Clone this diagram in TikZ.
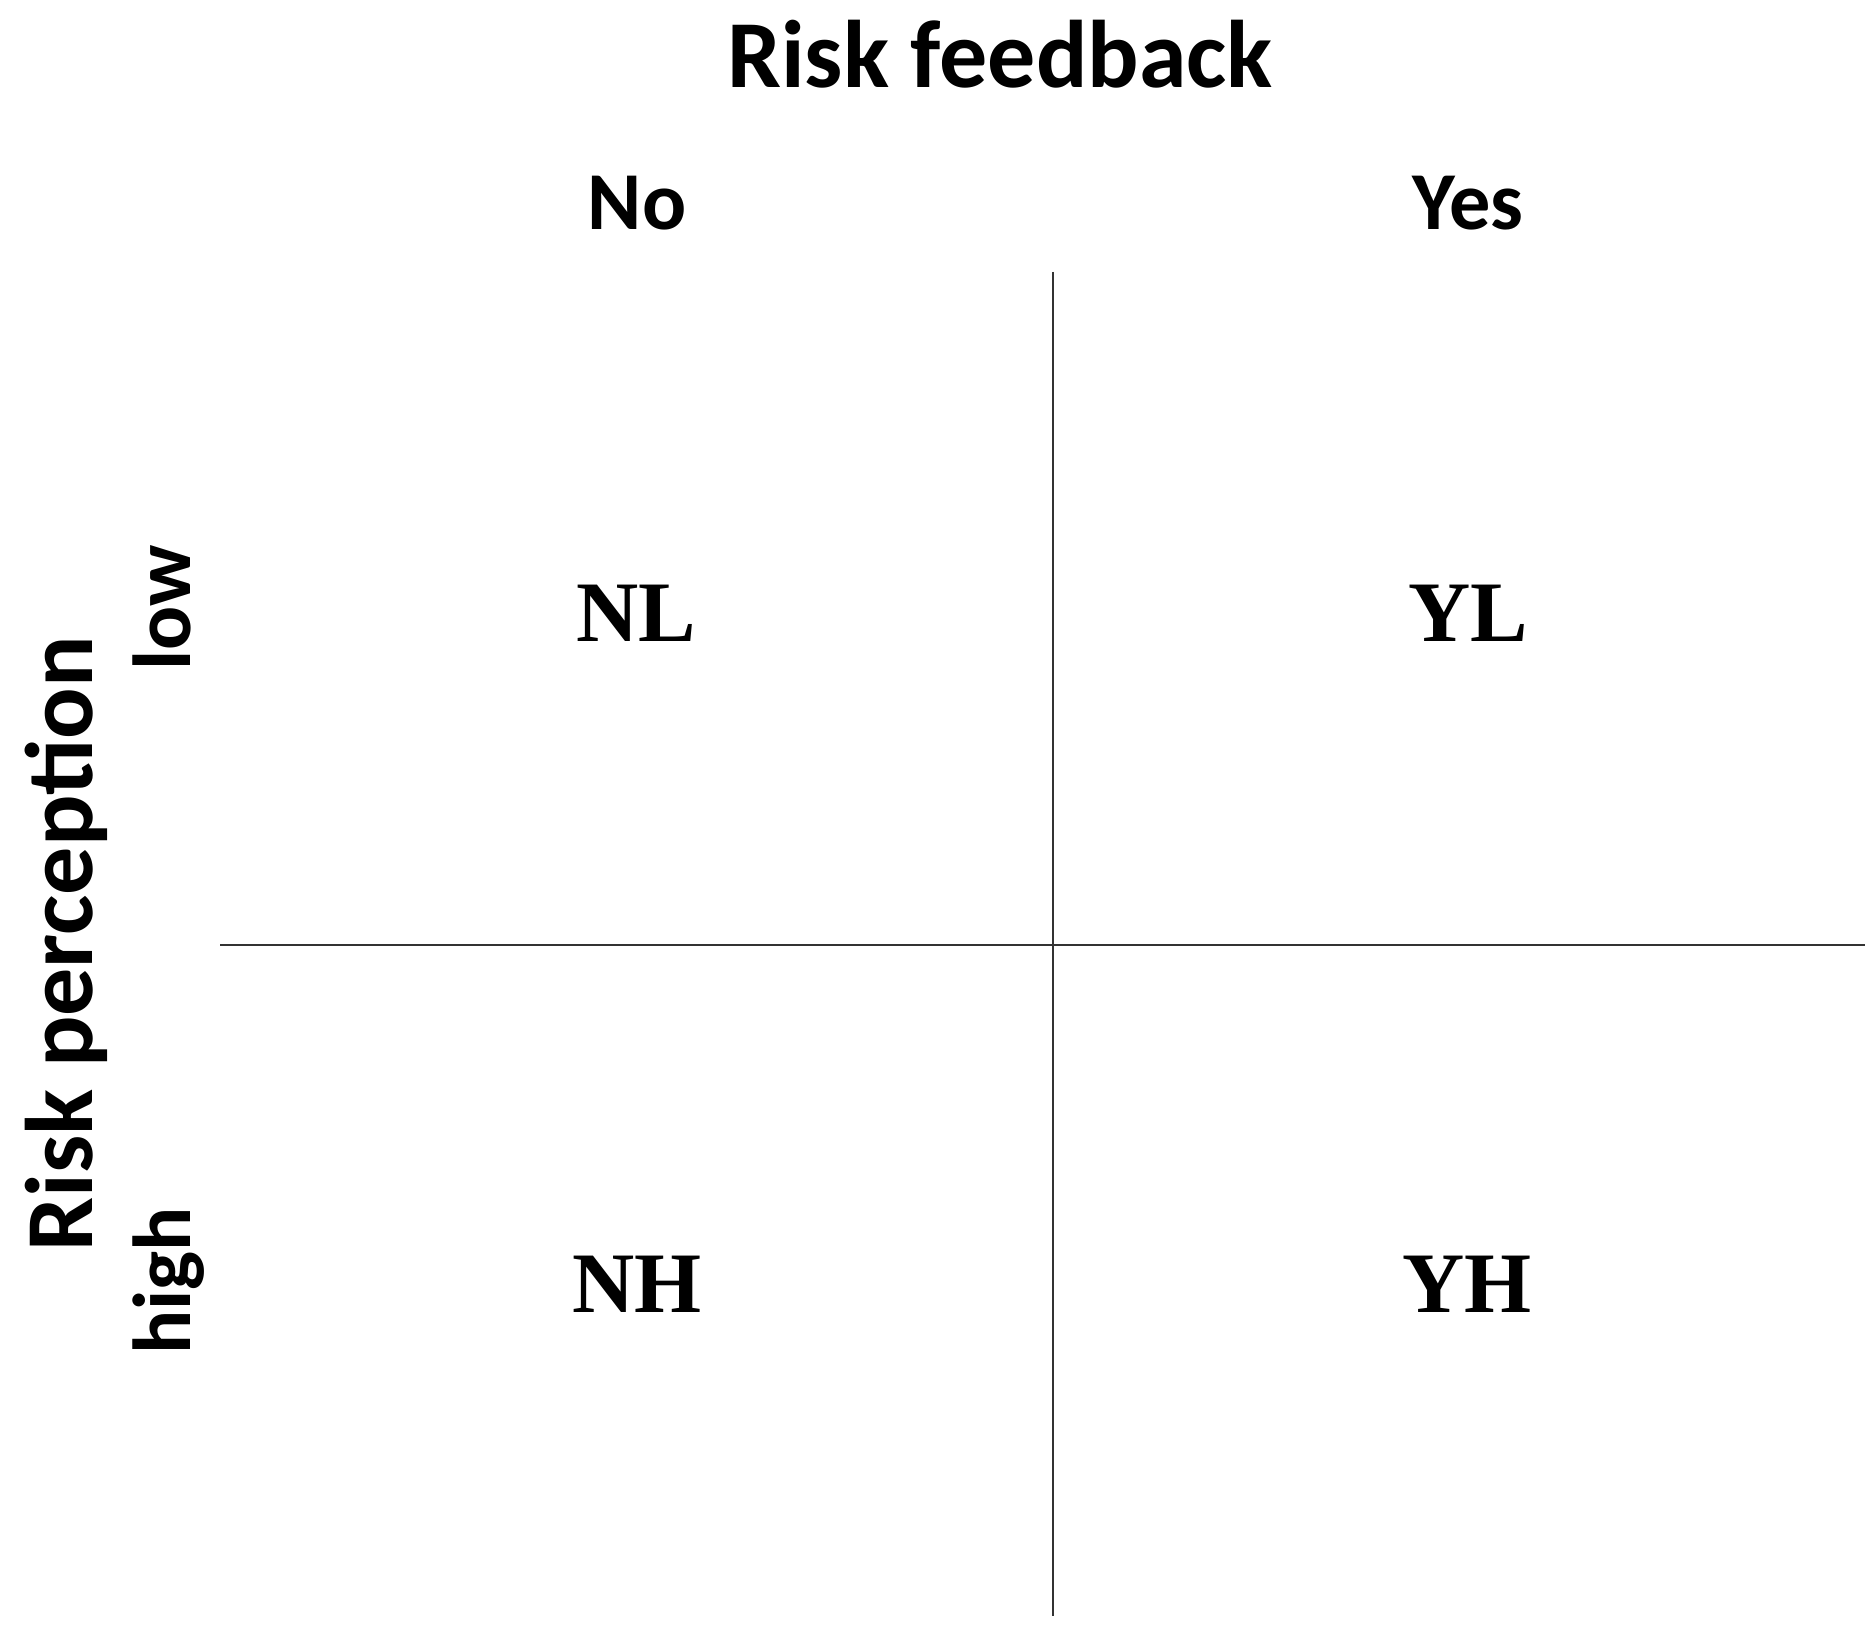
\documentclass[tikz,border=0pt]{standalone}
\usepackage{fontspec}
\newfontfamily\calfont{Carlito}
\newfontfamily\timesfont{Liberation Serif}
\begin{document}
\begin{tikzpicture}[x=0.01cm,y=-0.01cm,
  big/.style={inner sep=0pt,anchor=base,font=\calfont\bfseries\fontsize{27.3}{30}\selectfont},
  mid/.style={inner sep=0pt,anchor=base,font=\calfont\bfseries\fontsize{23.4}{26}\selectfont},
  cell/.style={inner sep=0pt,anchor=base,font=\timesfont\bfseries\fontsize{24.5}{28}\selectfont},
  axis/.style={line width=0.6pt,black!80}]
\useasboundingbox[fill=white] (0,0) rectangle (1867,1628);
\node[big] (title) at (1000,88) {Risk feedback};
\node[mid] (no) at (637,230) {No};
\node[mid] (yes) at (1468,230) {Yes};
\node[big,rotate=90] (rp) at (92,944) {Risk perception};
\node[mid,rotate=90] (low) at (190,608) {low};
\node[mid,rotate=90] (high) at (190,1281) {high};
\coordinate (vt) at (1053,272);
\coordinate (vb) at (1053,1616);
\coordinate (hl) at (220,945);
\coordinate (hr) at (1865,945);
\draw[axis] (vt) -- (vb);
\draw[axis] (hl) -- (hr);
\node[cell] (nl) at (636,642) {NL};
\node[cell] (yl) at (1468,642) {YL};
\node[cell] (nh) at (637,1312) {NH};
\node[cell] (yh) at (1467,1312) {YH};
\end{tikzpicture}
\end{document}
